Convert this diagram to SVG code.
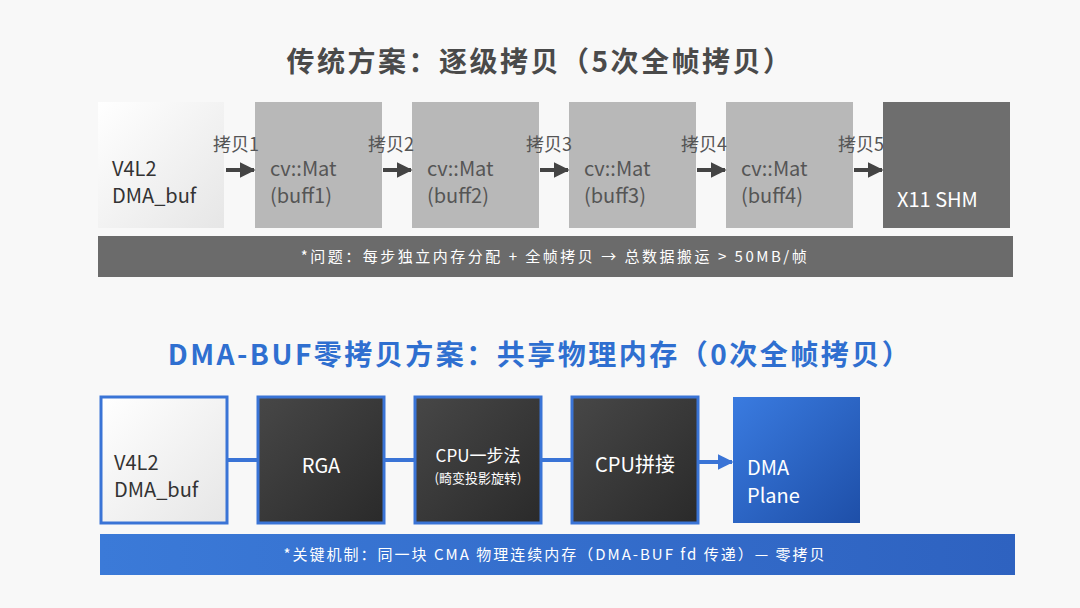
<svg xmlns="http://www.w3.org/2000/svg" width="1080" height="608" viewBox="0 0 1080 608">
<defs>
<linearGradient id="lg" x1="0" y1="0" x2="1" y2="1"><stop offset="0" stop-color="#ffffff"/><stop offset="1" stop-color="#e6e6e6"/></linearGradient>
<linearGradient id="dk" x1="0" y1="0" x2="1" y2="1"><stop offset="0" stop-color="#474747"/><stop offset="1" stop-color="#2a2a2a"/></linearGradient>
<linearGradient id="bl" x1="0" y1="0" x2="1" y2="1"><stop offset="0" stop-color="#3a7be0"/><stop offset="1" stop-color="#1e4fa8"/></linearGradient>
<linearGradient id="bar" x1="0" y1="0" x2="1" y2="0"><stop offset="0" stop-color="#3b7ad8"/><stop offset="1" stop-color="#2e62c0"/></linearGradient>
<marker id="ah" viewBox="0 0 10 10" refX="9" refY="5" markerWidth="4" markerHeight="4" orient="auto"><path d="M0,0L10,5L0,10z" fill="#444"/></marker>
<marker id="ab" viewBox="0 0 10 10" refX="9" refY="5" markerWidth="4" markerHeight="4" orient="auto"><path d="M0,0L10,5L0,10z" fill="#3a74d6"/></marker>
</defs>
<style>
text{font-family:"Noto Sans CJK SC","Noto Sans",sans-serif}
.t{font-size:20px;fill:#333}
.w{font-size:20px;fill:#fff}
.g{font-size:20px;fill:#555}
.lb{font-size:18px;fill:#555}
.ln{stroke:#444;stroke-width:4;marker-end:url(#ah)}
.lbu{stroke:#3a74d6;stroke-width:4}
.bb{stroke:#3a74d6;stroke-width:3}
</style>
<rect width="1080" height="608" fill="#f8f8f8"/>
<text x="540" y="72" text-anchor="middle" font-size="28" font-weight="bold" fill="#4a4a4a" letter-spacing="2.5">传统方案：逐级拷贝（5次全帧拷贝）</text>
<g id="n1"><rect x="98" y="102" width="126" height="126" fill="url(#lg)"/><text class="t" x="112" y="176">V4L2</text><text class="t" x="112" y="203">DMA_buf</text></g>
<g id="n2"><rect x="255" y="102" width="127" height="126" fill="#b8b8b8"/><text class="g" x="270" y="176">cv::Mat</text><text class="g" x="270" y="203">(buff1)</text></g>
<g id="n3"><rect x="412" y="102" width="127" height="126" fill="#b8b8b8"/><text class="g" x="427" y="176">cv::Mat</text><text class="g" x="427" y="203">(buff2)</text></g>
<g id="n4"><rect x="569" y="102" width="127" height="126" fill="#b8b8b8"/><text class="g" x="584" y="176">cv::Mat</text><text class="g" x="584" y="203">(buff3)</text></g>
<g id="n5"><rect x="726" y="102" width="127" height="126" fill="#b8b8b8"/><text class="g" x="741" y="176">cv::Mat</text><text class="g" x="741" y="203">(buff4)</text></g>
<g id="n6"><rect x="883" y="102" width="127" height="126" fill="#6e6e6e"/><text class="w" x="897" y="207">X11 SHM</text></g>
<g id="bar1"><rect x="98" y="236" width="915" height="41" fill="#6b6b6b"/><text x="555" y="262" text-anchor="middle" font-size="15" fill="#fff" letter-spacing="2.5">*问题：每步独立内存分配 + 全帧拷贝 → 总数据搬运 &gt; 50MB/帧</text></g>
<g id="connectors">
<line class="ln" x1="226" y1="170" x2="254" y2="170"/>
<line class="ln" x1="383" y1="170" x2="411" y2="170"/>
<line class="ln" x1="540" y1="170" x2="568" y2="170"/>
<line class="ln" x1="697" y1="170" x2="725" y2="170"/>
<line class="ln" x1="854" y1="170" x2="882" y2="170"/>
<line class="lbu" x1="228" y1="460" x2="258" y2="460"/>
<line class="lbu" x1="385" y1="460" x2="415" y2="460"/>
<line class="lbu" x1="542" y1="460" x2="572" y2="460"/>
<line class="lbu" x1="699" y1="462" x2="732" y2="462" marker-end="url(#ab)"/>
</g>
<g id="labels">
<text class="lb" x="213" y="151">拷贝1</text>
<text class="lb" x="368" y="151">拷贝2</text>
<text class="lb" x="526" y="151">拷贝3</text>
<text class="lb" x="681" y="151">拷贝4</text>
<text class="lb" x="838" y="151">拷贝5</text>
</g>
<text x="540" y="365" text-anchor="middle" font-size="28" font-weight="bold" fill="#2f6fd0" letter-spacing="2.5">DMA-BUF零拷贝方案：共享物理内存（0次全帧拷贝）</text>
<g id="m1"><rect x="101" y="397" width="126" height="126" fill="url(#lg)" class="bb"/><text class="t" x="114" y="470">V4L2</text><text class="t" x="114" y="497">DMA_buf</text></g>
<g id="m2"><rect x="258" y="397" width="126" height="126" fill="url(#dk)" class="bb"/><text class="w" x="321" y="473" text-anchor="middle">RGA</text></g>
<g id="m3"><rect x="415" y="397" width="126" height="126" fill="url(#dk)" class="bb"/><text x="478" y="462" text-anchor="middle" font-size="17" fill="#fff">CPU一步法</text><text x="478" y="483" text-anchor="middle" font-size="13" fill="#fff">(畸变投影旋转)</text></g>
<g id="m4"><rect x="572" y="397" width="126" height="126" fill="url(#dk)" class="bb"/><text class="w" x="635" y="472" text-anchor="middle">CPU拼接</text></g>
<g id="m5"><rect x="733" y="397" width="127" height="126" fill="url(#bl)"/><text class="w" x="747" y="475">DMA</text><text class="w" x="747" y="503">Plane</text></g>
<g id="bar2"><rect x="100" y="534" width="915" height="41" fill="url(#bar)"/><text x="555" y="560" text-anchor="middle" font-size="15" fill="#fff" letter-spacing="2">*关键机制：同一块 CMA 物理连续内存（DMA-BUF fd 传递）— 零拷贝</text></g>
</svg>
